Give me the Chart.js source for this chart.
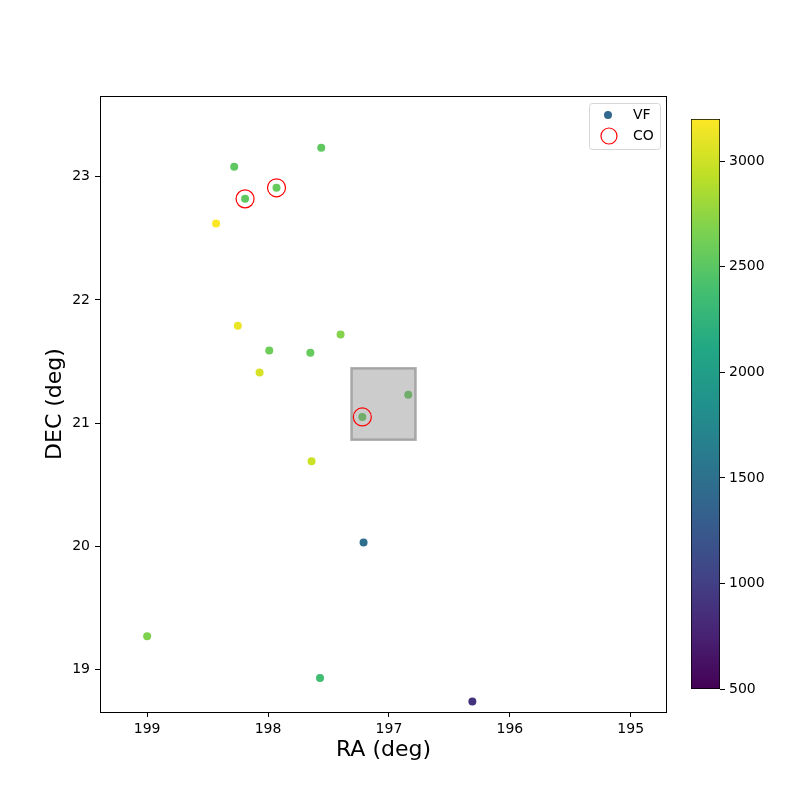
<!DOCTYPE html>
<html>
<head>
<meta charset="utf-8">
<script src="https://cdn.jsdelivr.net/npm/chart.js@4.4.0/dist/chart.umd.min.js"></script>
<style>
  body { margin: 0; background: #fff; }
  #wrap { position: relative; width: 800px; height: 800px; }
  canvas { position: absolute; top: 0; }
  #main { left: 0; }
  #cbar { left: 660px; }
</style>
</head>
<body>
<div id="wrap">
  <canvas id="main" width="800" height="800"></canvas>
  <canvas id="cbar" width="140" height="800"></canvas>
</div>
<script>
'use strict';

// Data

var vfRA  = [197.56, 198.28, 198.19, 197.93, 198.43, 198.25, 197.99, 197.65, 197.40,
             198.07, 196.84, 197.22, 197.64, 197.21, 199.00, 197.57, 196.31];
var vfDec = [23.235, 23.08, 22.82, 22.91, 22.62, 21.79, 21.59, 21.57, 21.72,
             21.41, 21.23, 21.05, 20.69, 20.03, 19.27, 18.93, 18.74];
var vfVr  = [2530, 2530, 2530, 2560, 3190, 3120, 2600, 2560, 2700,
             3040, 2560, 2560, 2990, 1480, 2680, 2370, 890];

var coRA  = [198.19, 197.93, 197.22];
var coDec = [22.82, 22.91, 21.05];

var boxRA  = [197.31, 196.78];
var boxDec = [20.865, 21.445];

var xTicks  = [199, 198, 197, 196, 195];
var yTicks  = [19, 20, 21, 22, 23];
var cbTicks = [500, 1000, 1500, 2000, 2500, 3000];

var vMin = 500, vMax = 3200;

// Viridis

var viridis = ['#440154', '#482475', '#414487', '#355f8d', '#2a788e', '#21918c',
               '#22a884', '#44bf70', '#7ad151', '#bddf26', '#fde725'];

function hexRgb(h) {
	return [parseInt(h.slice(1, 3), 16), parseInt(h.slice(3, 5), 16), parseInt(h.slice(5, 7), 16)];
}

function cmap(v) {
	var t = Math.min(1, Math.max(0, (v - vMin) / (vMax - vMin)));
	var f = t * (viridis.length - 1);
	var i = Math.min(viridis.length - 2, Math.floor(f));
	var a = hexRgb(viridis[i]), b = hexRgb(viridis[i + 1]);
	var k = f - i;
	var c = a.map(function(x, j) { return Math.round(x + (b[j] - x) * k); });
	return 'rgb(' + c.join(',') + ')';
}

var FONT = 'DejaVu Sans, sans-serif';

// Plugins

var frame = {
	id: 'frame',
	afterDatasetDraw: function(chart, args) {
		if (args.index !== 0) return;
		var ctx = chart.ctx, x = chart.scales.x, y = chart.scales.y;
		var x0 = x.getPixelForValue(boxRA[0]), x1 = x.getPixelForValue(boxRA[1]);
		var y0 = y.getPixelForValue(boxDec[0]), y1 = y.getPixelForValue(boxDec[1]);
		ctx.save();
		ctx.fillStyle = 'rgba(128,128,128,0.4)';
		ctx.fillRect(Math.min(x0, x1), Math.min(y0, y1), Math.abs(x1 - x0), Math.abs(y1 - y0));
		ctx.strokeStyle = 'rgba(128,128,128,0.6)';
		ctx.lineWidth = 2.5;
		ctx.strokeRect(Math.min(x0, x1), Math.min(y0, y1), Math.abs(x1 - x0), Math.abs(y1 - y0));
		ctx.restore();
	},
	afterDraw: function(chart) {
		var ctx = chart.ctx, a = chart.chartArea;
		ctx.save();
		ctx.strokeStyle = '#000';
		ctx.lineWidth = 1;
		ctx.strokeRect(a.left + 0.5, a.top + 0.5, a.right - a.left - 1, a.bottom - a.top);

		// legend
		var w = 71, h = 46;
		var lx = a.right - 7 - w, ly = a.top + 7;
		ctx.fillStyle = 'rgba(255,255,255,0.8)';
		ctx.strokeStyle = '#d6d6d6';
		ctx.beginPath();
		ctx.roundRect(lx + 0.5, ly + 0.5, w, h, 3);
		ctx.fill();
		ctx.stroke();
		var ds = chart.data.datasets;
		ctx.fillStyle = '#31688e';
		ctx.beginPath();
		ctx.arc(lx + 19, ly + 12, 4, 0, Math.PI * 2);
		ctx.fill();
		ctx.strokeStyle = 'red';
		ctx.lineWidth = 1.2;
		ctx.beginPath();
		ctx.arc(lx + 20, ly + 33, 8, 0, Math.PI * 2);
		ctx.stroke();
		ctx.fillStyle = '#000';
		ctx.font = '14px ' + FONT;
		ctx.textBaseline = 'middle';
		ctx.fillText(ds[0].label, lx + 44, ly + 12);
		ctx.fillText(ds[1].label, lx + 44, ly + 33);
		ctx.restore();
	}
};

// Main chart

var mainChart = new Chart(document.getElementById('main'), {
	type: 'scatter',
	data: {
		datasets: [{
			label: 'VF',
			order: 2,
			data: vfRA.map(function(r, i) { return { x: r, y: vfDec[i] }; }),
			backgroundColor: vfVr.map(cmap),
			borderWidth: 0,
			pointRadius: 4
		}, {
			label: 'CO',
			order: 1,
			data: coRA.map(function(r, i) { return { x: r, y: coDec[i] }; }),
			backgroundColor: 'rgba(0,0,0,0)',
			borderColor: 'red',
			borderWidth: 1.2,
			pointRadius: 9
		}]
	},
	options: {
		responsive: false,
		animation: false,
		events: [],
		layout: { padding: { left: 0, top: 96, right: 133, bottom: 0 } },
		plugins: { legend: { display: false }, tooltip: { enabled: false } },
		scales: {
			x: {
				type: 'linear',
				reverse: true,
				min: 194.70,
				max: 199.39,
				afterBuildTicks: function(s) { s.ticks = xTicks.map(function(v) { return { value: v }; }); },
				afterFit: function(s) { s.height = 88; },
				grid: { drawOnChartArea: false, tickLength: 5, color: '#000' },
				border: { display: false },
				ticks: { color: '#000', padding: 4, font: { family: FONT, size: 14 }, maxRotation: 0 },
				title: { display: true, text: 'RA (deg)', color: '#000', font: { family: FONT, size: 22 }, padding: { top: 0, bottom: 37 } }
			},
			y: {
				type: 'linear',
				min: 18.655,
				max: 23.655,
				afterBuildTicks: function(s) { s.ticks = yTicks.map(function(v) { return { value: v }; }); },
				afterFit: function(s) { s.width = 100; },
				grid: { drawOnChartArea: false, tickLength: 5, color: '#000' },
				border: { display: false },
				ticks: { color: '#000', padding: 5, font: { family: FONT, size: 14 } },
				title: { display: true, text: 'DEC (deg)', color: '#000', font: { family: FONT, size: 22 }, padding: { top: 42, bottom: 0 } }
			}
		}
	},
	plugins: [frame]
});

// Colorbar

var cbChart = new Chart(document.getElementById('cbar'), {
	type: 'bar',
	data: {
		labels: ['vr'],
		datasets: [{
			data: [[vMin, vMax]],
			backgroundColor: function(c) {
				var a = c.chart.chartArea;
				if (!a) return viridis[5];
				var g = c.chart.ctx.createLinearGradient(0, a.bottom, 0, a.top);
				viridis.forEach(function(col, i) { g.addColorStop(i / (viridis.length - 1), col); });
				return g;
			},
			borderColor: '#000',
			borderWidth: 1,
			borderSkipped: false,
			barPercentage: 1,
			categoryPercentage: 1
		}]
	},
	options: {
		responsive: false,
		animation: false,
		events: [],
		layout: { padding: { left: 31, top: 119, right: 0, bottom: 111 } },
		plugins: { legend: { display: false }, tooltip: { enabled: false } },
		scales: {
			x: { display: false },
			y: {
				position: 'right',
				min: vMin,
				max: vMax,
				afterBuildTicks: function(s) { s.ticks = cbTicks.map(function(v) { return { value: v }; }); },
				afterFit: function(s) { s.width = 80; },
				grid: { drawOnChartArea: false, tickLength: 5, color: '#000' },
				border: { display: false },
				ticks: {
					color: '#000', padding: 4, font: { family: FONT, size: 14 },
					callback: function(v) { return String(v); }
				}
			}
		}
	}
});
</script>
</body>
</html>
